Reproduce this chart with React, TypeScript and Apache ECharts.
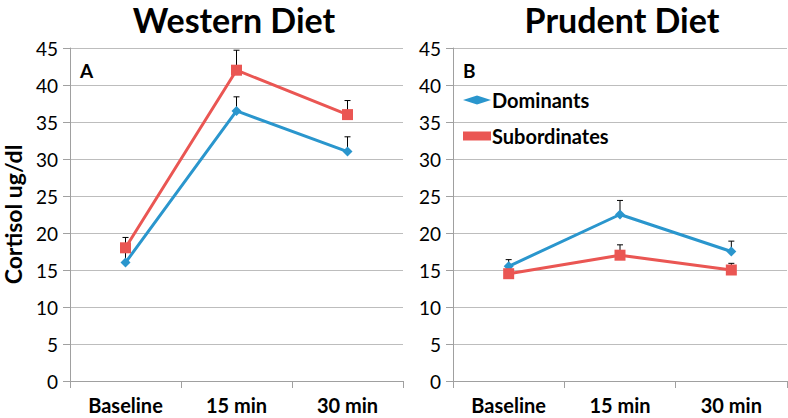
import React, { useEffect, useRef } from "react";
import * as echarts from "echarts";

const categories = ["Baseline", "15 min", "30 min"];
const westernDominants = [16, 36.5, 31];
const westernDominantsErr = [1.5, 1.9, 2.0];
const westernSubordinates = [18, 42, 36];
const westernSubordinatesErr = [1.4, 2.7, 1.9];
const prudentDominants = [15.5, 22.5, 17.5];
const prudentDominantsErr = [0.9, 1.9, 1.4];
const prudentSubordinates = [14.5, 17, 15];
const prudentSubordinatesErr = [0.6, 1.4, 0.9];
const titles = ["Western Diet", "Prudent Diet"];
const panelLabels = ["A", "B"];

const BLUE = "#2A96CD";
const RED = "#EA5653";
const GRID = "#BDBDBD";
const AXIS = "#A0A0A0";
const FONT = "Lato, 'Open Sans', sans-serif";

function errSeries(name: string, values: number[], errs: number[], idx: number) {
  return {
    type: "custom",
    name: name + "_err",
    xAxisIndex: idx,
    yAxisIndex: idx,
    z: 1,
    silent: true,
    data: values.map((v, i) => [i, v, v + errs[i]]),
    renderItem: (params: any, api: any) => {
      const x = api.value(0);
      const lo = api.coord([x, api.value(1)]);
      const hi = api.coord([x, api.value(2)]);
      const style = { stroke: "#000", lineWidth: 1 };
      return {
        type: "group",
        children: [
          { type: "line", shape: { x1: lo[0], y1: lo[1], x2: hi[0], y2: hi[1] }, style },
          { type: "line", shape: { x1: hi[0] - 3, y1: hi[1], x2: hi[0] + 3, y2: hi[1] }, style },
        ],
      };
    },
  };
}

function lineSeries(name: string, values: number[], idx: number, color: string, symbol: string, size: number) {
  return {
    type: "line",
    name,
    xAxisIndex: idx,
    yAxisIndex: idx,
    data: values,
    z: 3,
    symbol,
    symbolSize: size,
    showAllSymbol: true,
    lineStyle: { color, width: 3 },
    itemStyle: { color },
  };
}

export default function App() {
  const ref = useRef<HTMLDivElement>(null);
  useEffect(() => {
    const chart = echarts.init(ref.current!, null, { renderer: "svg" });
    const xAxisBase = (gridIndex: number) => ({
      type: "category",
      gridIndex,
      data: categories,
      boundaryGap: true,
      axisLine: { lineStyle: { color: AXIS, width: 1 } },
      axisTick: { show: true, interval: 0, length: 7, lineStyle: { color: AXIS } },
      axisLabel: { color: "#000", fontFamily: FONT, fontWeight: "bold", fontSize: 20, margin: 14, interval: 0 },
    });
    const yAxisBase = (gridIndex: number) => ({
      type: "value",
      gridIndex,
      min: 0,
      max: 45,
      interval: 5,
      axisLine: { show: true, lineStyle: { color: AXIS, width: 1 } },
      axisTick: { show: true, length: 7, lineStyle: { color: AXIS } },
      splitLine: { lineStyle: { color: GRID, width: 1 } },
      axisLabel: { color: "#000", fontFamily: FONT, fontSize: 19, margin: 12 },
    });
    const titleStyle = { fontFamily: FONT, fontWeight: "bold", fontSize: 34, fill: "#000", align: "center", verticalAlign: "top" };
    chart.setOption({
      animation: false,
      grid: [
        { left: 70, right: 385, top: 48, bottom: 37, containLabel: false, outerBoundsMode: "none" },
        { left: 453, right: 1, top: 48, bottom: 37, containLabel: false, outerBoundsMode: "none" },
      ],
      xAxis: [xAxisBase(0), xAxisBase(1)],
      yAxis: [
        {
          ...yAxisBase(0),
          name: "Cortisol ug/dl",
          nameLocation: "middle",
          nameGap: 46,
          nameTextStyle: { color: "#000", fontFamily: FONT, fontWeight: "bold", fontSize: 23 },
        },
        yAxisBase(1),
      ],
      legend: {
        show: true,
        data: [
          { name: "Dominants", icon: "diamond" },
          { name: "Subordinates", icon: "rect" },
        ],
        orient: "vertical",
        left: 458,
        top: 85,
        itemWidth: 28,
        itemHeight: 9,
        itemGap: 16,
        textStyle: { color: "#000", fontFamily: FONT, fontWeight: "bold", fontSize: 20, padding: [0, 0, 0, -4] },
      },
      graphic: [
        { type: "text", x: 234, y: 2, style: { ...titleStyle, text: titles[0] } },
        { type: "text", x: 622, y: 2, style: { ...titleStyle, text: titles[1] } },
        {
          type: "text",
          x: 80,
          y: 61,
          style: { text: panelLabels[0], fontFamily: FONT, fontWeight: "bold", fontSize: 19, fill: "#000" },
        },
        {
          type: "text",
          x: 463,
          y: 61,
          style: { text: panelLabels[1], fontFamily: FONT, fontWeight: "bold", fontSize: 19, fill: "#000" },
        },
      ],
      series: [
        errSeries("WD", westernDominants, westernDominantsErr, 0),
        errSeries("WS", westernSubordinates, westernSubordinatesErr, 0),
        errSeries("PD", prudentDominants, prudentDominantsErr, 1),
        errSeries("PS", prudentSubordinates, prudentSubordinatesErr, 1),
        lineSeries("Dominants", westernDominants, 0, BLUE, "diamond", 10),
        lineSeries("Subordinates", westernSubordinates, 0, RED, "rect", 11),
        lineSeries("Dominants", prudentDominants, 1, BLUE, "diamond", 10),
        lineSeries("Subordinates", prudentSubordinates, 1, RED, "rect", 11),
      ],
    });
    return () => chart.dispose();
  }, []);
  return <div ref={ref} style={{ width: 788, height: 418, position: "absolute", left: 0, top: 0 }} />;
}
